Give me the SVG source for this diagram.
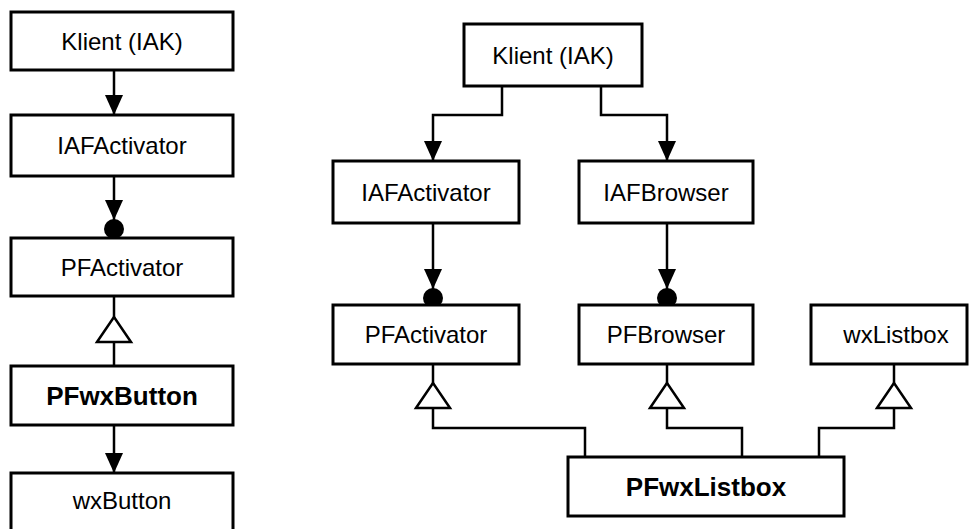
<svg xmlns="http://www.w3.org/2000/svg" width="969" height="529" viewBox="0 0 969 529">
<style>
  .box { fill: #ffffff; stroke: #000000; stroke-width: 3; }
  .lbl { font-family: "Liberation Sans", Arial, sans-serif; font-size: 24px; text-anchor: middle; fill: #000000; }
  .bold { font-weight: bold; font-size: 26px; }
  .wire { fill: none; stroke: #000000; stroke-width: 2.5; }
  .ball { fill: #000000; stroke: none; }
</style>
<defs>
  <marker id="arrow" viewBox="0 0 20 18" refX="20" refY="9" markerWidth="20" markerHeight="18" markerUnits="userSpaceOnUse" orient="auto">
    <path d="M0,0 L20,9 L0,18 z" fill="#000000"/>
  </marker>
  <marker id="tri" viewBox="0 0 25 34" refX="25" refY="17" markerWidth="25" markerHeight="34" markerUnits="userSpaceOnUse" orient="auto" overflow="visible">
    <path d="M0,0 L25,17 L0,34 z" fill="#ffffff" stroke="#000000" stroke-width="2.5" stroke-linejoin="miter"/>
  </marker>
</defs>

<g id="connectors">
  <!-- left column -->
  <path class="wire" d="M114,70 V115" marker-end="url(#arrow)"/>
  <path class="wire" d="M114,176 V220" marker-end="url(#arrow)"/>
  <circle class="ball" cx="114" cy="229" r="10"/>
  <path class="wire" d="M114,366 V317" marker-end="url(#tri)"/>
  <path class="wire" d="M114,317 V296"/>
  <path class="wire" d="M114,425 V473" marker-end="url(#arrow)"/>

  <!-- right diagram -->
  <path class="wire" d="M502,86 V115 H433 V161" marker-end="url(#arrow)"/>
  <path class="wire" d="M601,86 V115 H667 V161" marker-end="url(#arrow)"/>
  <path class="wire" d="M433,223 V289" marker-end="url(#arrow)"/>
  <circle class="ball" cx="433" cy="298" r="10"/>
  <path class="wire" d="M667,223 V289" marker-end="url(#arrow)"/>
  <circle class="ball" cx="667" cy="298" r="10"/>

  <path class="wire" d="M585,457 V428 H433 V383" marker-end="url(#tri)"/>
  <path class="wire" d="M433,383 V364"/>
  <path class="wire" d="M742,457 V428 H667 V383" marker-end="url(#tri)"/>
  <path class="wire" d="M667,383 V364"/>
  <path class="wire" d="M819,457 V428 H894 V383" marker-end="url(#tri)"/>
  <path class="wire" d="M894,383 V364"/>
</g>

<g id="klient-left">
  <rect class="box" x="11" y="12" width="222" height="58"/>
  <text class="lbl" x="122" y="49.6">Klient (IAK)</text>
</g>
<g id="iafactivator-left">
  <rect class="box" x="11" y="115" width="222" height="61"/>
  <text class="lbl" x="122" y="154">IAFActivator</text>
</g>
<g id="pfactivator-left">
  <rect class="box" x="11" y="238" width="222" height="58"/>
  <text class="lbl" x="122" y="275.6">PFActivator</text>
</g>
<g id="pfwxbutton">
  <rect class="box" x="11" y="366" width="222" height="59"/>
  <text class="lbl bold" x="122" y="404.8">PFwxButton</text>
</g>
<g id="wxbutton">
  <rect class="box" x="11" y="473" width="222" height="64"/>
  <text class="lbl" x="122" y="509">wxButton</text>
</g>

<g id="klient-right">
  <rect class="box" x="464" y="24" width="178" height="62"/>
  <text class="lbl" x="553" y="63.6">Klient (IAK)</text>
</g>
<g id="iafactivator-right">
  <rect class="box" x="333" y="161" width="186" height="62"/>
  <text class="lbl" x="426" y="200.6">IAFActivator</text>
</g>
<g id="iafbrowser">
  <rect class="box" x="579" y="161" width="174" height="62"/>
  <text class="lbl" x="666" y="200.6">IAFBrowser</text>
</g>
<g id="pfactivator-right">
  <rect class="box" x="333" y="305" width="186" height="59"/>
  <text class="lbl" x="426" y="343">PFActivator</text>
</g>
<g id="pfbrowser">
  <rect class="box" x="579" y="305" width="174" height="59"/>
  <text class="lbl" x="666" y="343">PFBrowser</text>
</g>
<g id="wxlistbox">
  <rect class="box" x="811" y="305" width="156" height="59"/>
  <text class="lbl" x="896" y="343">wxListbox</text>
</g>
<g id="pfwxlistbox">
  <rect class="box" x="568" y="457" width="276" height="59"/>
  <text class="lbl bold" x="706" y="495.8">PFwxListbox</text>
</g>
</svg>
